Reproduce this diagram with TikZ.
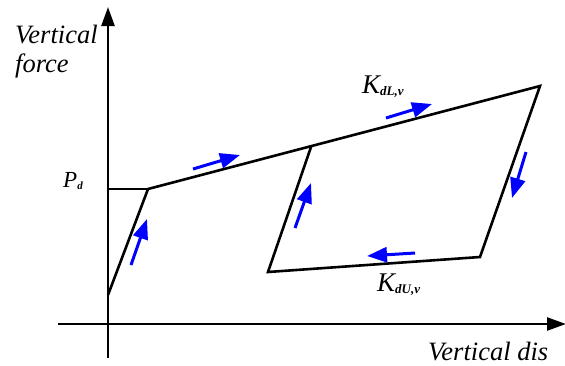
\documentclass[tikz,border=0pt]{standalone}
\usepackage{fontspec}
\setmainfont{Liberation Serif}
\usetikzlibrary{arrows.meta,positioning}
\newcommand{\sublbl}[3]{\fontsize{#1}{#1}\selectfont#2\raisebox{-2pt}{\fontsize{13}{13}\selectfont\bfseries#3}}

\begin{document}
\begin{tikzpicture}[x=1pt,y=-1pt,>=Latex,
  every node/.style={font=\fontsize{26.5}{28}\selectfont\itshape,inner sep=0pt},
  axis/.style={line width=2.4pt,-{Triangle[length=19pt,width=13pt]}},
  curve/.style={line width=2.6pt,line join=miter},
  flow/.style={blue,line width=3pt,-{Triangle[length=20pt,width=15pt]}}]
  \useasboundingbox (0,0) rectangle (565,365);
  % axes
  \coordinate (ybot) at (108,358);
  \coordinate (ytop) at (108,7);
  \coordinate (xleft) at (58,324);
  \coordinate (xright) at (566,324);
  \draw[axis] (ybot) -- (ytop);
  \draw[axis] (xleft) -- (xright);
  % loop corners
  \coordinate (start) at (108,295);
  \coordinate (pdleft) at (108,189);
  \coordinate (yield) at (148,189);
  \coordinate (peak) at (540,86);
  \coordinate (unload) at (480,257);
  \coordinate (reload) at (268,272);
  \coordinate (rejoin) at (311,147);
  \draw[curve] (pdleft) -- (yield);
  \draw[curve] (start) -- (yield) -- (peak) -- (unload) -- (reload) -- (rejoin);
  % direction arrows
  \foreach \sx/\sy/\ex/\ey in {131/265/147/219, 193/169/240/155, 386/118/432/104,
                               526/152/512/198, 415/253/367/256, 295/228/311/183}
    \draw[flow] (\sx,\sy) -- (\ex,\ey);
  % labels
  \node[anchor=base west] (vf1) at (15,43) {Vertical};
  \node[anchor=base west] (vf2) at (15,72) {force};
  \node[anchor=base west] (vdis) at (428,360) {Vertical dis};
  \node[anchor=base west] (pd) at (63,187) {\sublbl{23}{P}{\fontsize{11}{11}\selectfont d}};
  \node[anchor=base west] (kdl) at (362,93) {\sublbl{27}{K}{dL,v}};
  \node[anchor=base west] (kdu) at (377,291) {\sublbl{27}{K}{dU,v}};
\end{tikzpicture}
\end{document}
